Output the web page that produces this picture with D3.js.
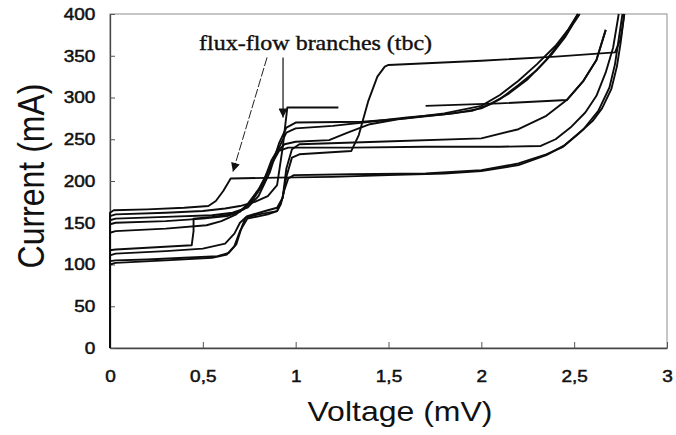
<!DOCTYPE html>
<html lang="en">
<head>
    <meta charset="UTF-8">
    <title>Current vs Voltage</title>
    <style>
        body {
            margin: 0;
            background: #fff;
        }

        svg {
            display: block;
        }
    </style>
</head>
<body>
    <svg></svg>

    <script src="https://d3js.org/d3.v7.min.js"></script>
    <script>
        const width = 676;
        const height = 435;

        // axis ticks
        const xTicks = [0, 0.5, 1, 1.5, 2, 2.5, 3];
        const xTickLabels = ["0", "0,5", "1", "1,5", "2", "2,5", "3"];
        const yTicks = [0, 50, 100, 150, 200, 250, 300, 350, 400];

        // I-V curves, [voltage mV, current mA], null = gap in the trace
        const curveA = [[0, 0], [0, 162], [0.02, 165], [0.2, 166], [0.4, 168], [0.53, 170], [0.57, 176], [0.61, 188], [0.65, 203], [0.9, 204], [1.2, 205], [1.5, 207], [1.8, 209], [2.0, 212], [2.2, 219], [2.35, 231], [2.45, 243], [2.55, 262], [2.63, 284], [2.69, 312], [2.72, 340], [2.74, 370], [2.76, 400]];
        const curveB = [[0, 0], [0, 104], [0.03, 105], [0.2, 106], [0.4, 108], [0.58, 110], [0.64, 114], [0.68, 124], [0.71, 145], [0.73, 156], [0.8, 160], [0.9, 164], [0.92, 172], [0.94, 190], [0.96, 203], [0.99, 207], [1.3, 208], [1.7, 209], [2.0, 213], [2.2, 221], [2.35, 232], [2.44, 241], [2.52, 256], [2.6, 272], [2.65, 287], [2.7, 310], [2.73, 337], [2.75, 365], [2.77, 400]];
        const curveC = [[0, 0], [0, 117], [0.03, 118], [0.2, 120], [0.44, 123], [0.45, 140], [0.45, 155], [0.55, 157], [0.65, 160], [0.72, 166], [0.77, 178], [0.82, 195], [0.87, 220], [0.91, 236], [0.96, 240], [1.3, 240], [1.7, 241], [2.1, 241], [2.32, 242], [2.4, 250], [2.48, 264], [2.56, 282], [2.62, 302], [2.67, 330], [2.71, 360], [2.74, 400]];
        const curveD = [[0, 0], [0, 148], [0.03, 150], [0.3, 152], [0.5, 155], [0.63, 158], [0.7, 163], [0.76, 175], [0.82, 195], [0.87, 225], [0.91, 240], [0.95, 258], [1.0, 263], [1.2, 266], [1.4, 271], [1.6, 276], [1.8, 280], [1.95, 284], [2.05, 292], [2.15, 305], [2.25, 322], [2.35, 345], [2.43, 368], [2.48, 385], [2.52, 400]];
        const curveE = [[0, 0], [0, 153], [0.03, 155], [0.3, 157], [0.55, 159], [0.66, 162], [0.74, 168], [0.8, 182], [0.86, 210], [0.91, 245], [0.95, 264], [1.0, 270], [1.36, 271], [1.6, 275], [1.85, 281], [2.0, 287], [2.1, 298], [2.2, 315], [2.3, 333], [2.38, 352], [2.45, 372], [2.5, 390], [2.53, 400]];
        const curveF = [[0, 0], [0, 158], [0.03, 160], [0.3, 162], [0.5, 164], [0.62, 167], [0.7, 170], [0.78, 175], [0.85, 182], [0.9, 195], [0.93, 240], [0.955, 288], [1.23, 288], null, [1.7, 290], [2.1, 293], [2.46, 297], [2.55, 320], [2.62, 345], [2.67, 381]];
        const curveG = [[0, 0], [0, 111], [0.03, 113], [0.3, 116], [0.5, 119], [0.62, 125], [0.67, 137], [0.7, 150], [0.74, 158], [0.85, 165], [0.9, 168], [0.93, 180], [0.95, 205], [0.98, 228], [1.02, 232], [1.3, 236], [1.34, 255], [1.39, 295], [1.44, 325], [1.48, 337], [1.5, 339], [2.0, 344], [2.4, 349], [2.72, 354], [2.75, 370], [2.77, 400]];
        const curveH = [[0, 0], [0, 100], [0.03, 102], [0.3, 105], [0.55, 108], [0.63, 112], [0.67, 122], [0.7, 140], [0.74, 155], [0.85, 160], [0.9, 164], [0.93, 180], [0.95, 215], [0.98, 238], [1.02, 244], [1.44, 247], [2.0, 251], [2.2, 262], [2.35, 278], [2.46, 297], [2.55, 320], [2.62, 345], [2.67, 381]];
        const curveI = [[0, 0], [0, 138], [0.03, 140], [0.3, 143], [0.52, 147], [0.6, 152], [0.68, 160], [0.74, 172], [0.8, 190], [0.86, 215], [0.9, 235], [0.94, 244], [1.0, 247], [1.18, 249], [1.28, 258], [1.4, 268], [1.55, 274], [1.8, 281], [2.0, 290], [2.1, 303], [2.2, 320], [2.3, 340], [2.4, 362], [2.47, 382], [2.52, 400]];

        const curves = [curveA, curveB, curveC, curveD, curveE, curveF, curveG, curveH, curveI];

        // annotation, anchored in data units
        const noteText = "flux-flow branches (tbc)";
        const noteAt = [0.48, 357];
        const arrowDashed = [[0.846, 348], [0.662, 211]];
        const arrowSolid = [[0.932, 348], [0.932, 276]];

        const margin = { top: 14, right: 9, bottom: 87, left: 110 };

        const svg = d3.select("svg")
            .attr("width", width)
            .attr("height", height);

        const x = d3.scaleLinear().domain([0, 3]).range([margin.left, width - margin.right]);
        const y = d3.scaleLinear().domain([0, 400]).range([height - margin.bottom, margin.top]);

        // grey frame (top / right)
        svg.append("rect")
            .attr("x", x(0))
            .attr("y", y(400))
            .attr("width", x(3) - x(0))
            .attr("height", y(0) - y(400))
            .attr("fill", "none")
            .attr("stroke", "#a0a0a0")
            .attr("stroke-width", 1.2);

        const xAxis = svg.append("g")
            .attr("transform", `translate(0,${y(0)})`)
            .call(d3.axisBottom(x)
                .tickValues(xTicks)
                .tickFormat((d, i) => xTickLabels[i])
                .tickSizeInner(-6)
                .tickSizeOuter(0)
                .tickPadding(22));

        const yAxis = svg.append("g")
            .attr("transform", `translate(${x(0)},0)`)
            .call(d3.axisLeft(y)
                .tickValues(yTicks)
                .tickSizeInner(-5)
                .tickSizeOuter(0)
                .tickPadding(13));

        [xAxis, yAxis].forEach(g => {
            g.select(".domain").attr("stroke", "#444").attr("stroke-width", 1.3);
            g.selectAll(".tick line").attr("stroke", "#555").attr("stroke-width", 1);
            g.selectAll(".tick text")
                .attr("fill", "#111")
                .attr("stroke", "#111")
                .attr("stroke-width", 0.5)
                .style("font-family", "'Liberation Sans', Arial, sans-serif")
                .style("font-size", "17px")
                .attr("transform", "scale(1.12,1)");
        });

        // the curves
        const line = d3.line()
            .defined(d => d !== null)
            .x(d => x(d[0]))
            .y(d => y(d[1]));

        svg.append("g")
            .attr("fill", "none")
            .attr("stroke", "#0d0d0d")
            .attr("stroke-width", 1.9)
            .attr("stroke-linejoin", "round")
            .selectAll("path")
            .data(curves)
            .join("path")
            .attr("d", line);

        // arrow heads
        const defs = svg.append("defs");
        defs.append("marker")
            .attr("id", "head")
            .attr("markerUnits", "userSpaceOnUse")
            .attr("viewBox", "0 0 10 10")
            .attr("refX", 10)
            .attr("refY", 5)
            .attr("markerWidth", 10)
            .attr("markerHeight", 9)
            .attr("orient", "auto")
            .append("path")
            .attr("d", "M0,0L10,5L0,10Z")
            .attr("fill", "#111");

        svg.append("line")
            .attr("x1", x(arrowDashed[0][0])).attr("y1", y(arrowDashed[0][1]))
            .attr("x2", x(arrowDashed[1][0])).attr("y2", y(arrowDashed[1][1]))
            .attr("stroke", "#222")
            .attr("stroke-width", 1)
            .attr("stroke-dasharray", "9,2")
            .attr("marker-end", "url(#head)");

        svg.append("line")
            .attr("x1", x(arrowSolid[0][0])).attr("y1", y(arrowSolid[0][1]))
            .attr("x2", x(arrowSolid[1][0])).attr("y2", y(arrowSolid[1][1]))
            .attr("stroke", "#222")
            .attr("stroke-width", 1.3)
            .attr("marker-end", "url(#head)");

        svg.append("text")
            .attr("x", x(noteAt[0]))
            .attr("y", y(noteAt[1]))
            .attr("textLength", 233)
            .attr("lengthAdjust", "spacingAndGlyphs")
            .style("font-family", "'Liberation Serif', 'Times New Roman', serif")
            .style("font-size", "22px")
            .attr("fill", "#111")
            .attr("stroke", "#111")
            .attr("stroke-width", 0.4)
            .text(noteText);

        // axis titles
        svg.append("text")
            .attr("x", 400)
            .attr("y", 421)
            .attr("text-anchor", "middle")
            .attr("textLength", 185)
            .attr("lengthAdjust", "spacingAndGlyphs")
            .style("font-family", "'Liberation Sans', Arial, sans-serif")
            .style("font-size", "28px")
            .attr("fill", "#111")
            .text("Voltage (mV)");

        svg.append("text")
            .attr("transform", "translate(44,176) rotate(-90) scale(1,1.15)")
            .attr("text-anchor", "middle")
            .attr("textLength", 185)
            .attr("lengthAdjust", "spacingAndGlyphs")
            .style("font-family", "'Liberation Sans', Arial, sans-serif")
            .style("font-size", "32px")
            .attr("fill", "#111")
            .text("Current (mA)");
    </script>
</body>
</html>
